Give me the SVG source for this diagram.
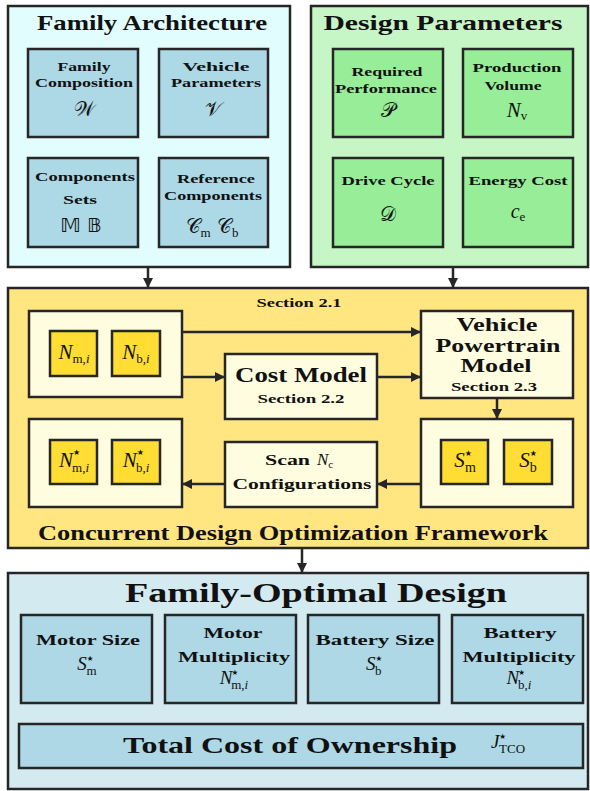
<svg xmlns="http://www.w3.org/2000/svg" width="590" height="791" viewBox="0 0 590 791">
<style>
rect{stroke:#262626;stroke-width:2.5}
.t{font-family:"Liberation Serif",serif;font-weight:bold;fill:#111;text-anchor:middle}
.ts{font-family:"Liberation Serif",serif;font-weight:bold;fill:#111;text-anchor:start}
.m{font-family:"Liberation Serif",serif;font-style:italic;fill:#111;text-anchor:middle}
.ms{font-family:"Liberation Serif",serif;font-style:italic;fill:#111;text-anchor:start}
.r{font-family:"Liberation Serif",serif;font-style:normal;font-weight:normal}
.st{font-family:"DejaVu Sans",sans-serif;font-style:normal;font-weight:normal}
.s{font-family:"DejaVu Sans","Noto Sans",serif;font-style:normal;fill:#111;text-anchor:middle}
.fa{fill:#e2fdfd}.fb{fill:#add8e6}.ga{fill:#c6f5c6}.gb{fill:#98ee98}
.ya{fill:#ffe680}.yb{fill:#fffde0}.yc{fill:#ffdd33}
.ba{fill:#d3eaf1}.bb{fill:#aed8e6}
.c{stroke:#262626;stroke-width:2.5;fill:none}
</style>
<defs>
<marker id="ah" viewBox="0 0 10 10" refX="9" refY="5" markerWidth="4" markerHeight="4" orient="auto" markerUnits="strokeWidth">
<path d="M0,0 L10,5 L0,10 z" fill="#262626"/>
</marker>
</defs>

<g id="family-architecture">
<rect class="fa" x="8" y="6" width="282" height="261"/>
<text class="t" x="152" y="30" font-size="21" textLength="230" lengthAdjust="spacingAndGlyphs">Family Architecture</text>
<g id="family-composition">
<rect class="fb" x="28" y="49" width="110" height="88"/>
<text class="t" x="84" y="71" font-size="13.5" textLength="53" lengthAdjust="spacingAndGlyphs">Family</text>
<text class="t" x="84" y="87" font-size="13.5" textLength="98" lengthAdjust="spacingAndGlyphs">Composition</text>
<text class="s" x="84" y="116" font-size="20">𝒲</text>
</g>
<g id="vehicle-parameters">
<rect class="fb" x="159" y="49" width="109" height="88"/>
<text class="t" x="216" y="71" font-size="13.5" textLength="67" lengthAdjust="spacingAndGlyphs">Vehicle</text>
<text class="t" x="216" y="87" font-size="13.5" textLength="90" lengthAdjust="spacingAndGlyphs">Parameters</text>
<text class="s" x="213" y="116" font-size="20">𝒱</text>
</g>
<g id="components-sets">
<rect class="fb" x="28" y="158" width="110" height="89"/>
<text class="t" x="85" y="181" font-size="13.5" textLength="100" lengthAdjust="spacingAndGlyphs">Components</text>
<text class="t" x="80" y="204" font-size="13.5" textLength="34" lengthAdjust="spacingAndGlyphs">Sets</text>
<text class="s" x="81" y="232" font-size="20">𝕄 𝔹</text>
</g>
<g id="reference-components">
<rect class="fb" x="159" y="158" width="109" height="89"/>
<text class="t" x="216" y="183" font-size="13.5" textLength="78" lengthAdjust="spacingAndGlyphs">Reference</text>
<text class="t" x="213" y="200" font-size="13.5" textLength="98" lengthAdjust="spacingAndGlyphs">Components</text>
<text class="s" x="212" y="233" font-size="20">𝒞<tspan class="r" font-size="13" dy="4">m</tspan><tspan dy="-4"> 𝒞</tspan><tspan class="r" font-size="13" dy="4">b</tspan></text>
</g>
</g>

<g id="design-parameters">
<rect class="ga" x="311" y="6" width="277" height="261"/>
<text class="t" x="443" y="30" font-size="21" textLength="239" lengthAdjust="spacingAndGlyphs">Design Parameters</text>
<g id="required-performance">
<rect class="gb" x="333" y="49" width="110" height="88"/>
<text class="t" x="387" y="76" font-size="13.5" textLength="71" lengthAdjust="spacingAndGlyphs">Required</text>
<text class="t" x="386" y="93" font-size="13.5" textLength="102" lengthAdjust="spacingAndGlyphs">Performance</text>
<text class="s" x="388" y="117" font-size="20">𝒫</text>
</g>
<g id="production-volume">
<rect class="gb" x="463" y="49" width="110" height="88"/>
<text class="t" x="517" y="72" font-size="13.5" textLength="89" lengthAdjust="spacingAndGlyphs">Production</text>
<text class="t" x="513" y="90" font-size="13.5" textLength="57" lengthAdjust="spacingAndGlyphs">Volume</text>
<text class="m" x="517" y="117" font-size="21">N<tspan class="r" font-size="13" dy="3">v</tspan></text>
</g>
<g id="drive-cycle">
<rect class="gb" x="333" y="158" width="110" height="89"/>
<text class="t" x="388" y="185" font-size="13.5" textLength="93" lengthAdjust="spacingAndGlyphs">Drive Cycle</text>
<text class="s" x="388" y="221" font-size="20">𝒟</text>
</g>
<g id="energy-cost">
<rect class="gb" x="463" y="158" width="110" height="89"/>
<text class="t" x="518" y="185" font-size="13.5" textLength="99" lengthAdjust="spacingAndGlyphs">Energy Cost</text>
<text class="m" x="518" y="218" font-size="20">c<tspan class="r" font-size="13" dy="3">e</tspan></text>
</g>
</g>

<g id="framework">
<rect class="ya" x="8" y="288" width="580" height="260"/>
<text class="t" x="299" y="307" font-size="13" textLength="85" lengthAdjust="spacingAndGlyphs">Section 2.1</text>
<text class="t" x="293" y="540" font-size="20" textLength="510" lengthAdjust="spacingAndGlyphs">Concurrent Design Optimization Framework</text>
<g id="counts-box">
<rect class="yb" x="29" y="311" width="153" height="86"/>
<rect class="yc" x="50" y="331" width="47" height="45"/>
<rect class="yc" x="112" y="331" width="48" height="45"/>
<text class="m" x="74" y="359" font-size="21">N<tspan class="r" font-size="13" dy="4">m,</tspan><tspan font-size="13">i</tspan></text>
<text class="m" x="136" y="359" font-size="21">N<tspan class="r" font-size="13" dy="4">b,</tspan><tspan font-size="13">i</tspan></text>
</g>
<g id="optimal-counts-box">
<rect class="yb" x="29" y="419" width="153" height="88"/>
<rect class="yc" x="50" y="440" width="47" height="44"/>
<rect class="yc" x="112" y="440" width="48" height="44"/>
<text class="m" x="74" y="467" font-size="21">N<tspan class="st" font-size="8" dy="-12" dx="0">★</tspan><tspan class="r" font-size="13" dx="-8" dy="17">m,</tspan><tspan font-size="13">i</tspan></text>
<text class="m" x="136" y="467" font-size="21">N<tspan class="st" font-size="8" dy="-12" dx="0">★</tspan><tspan class="r" font-size="13" dx="-8" dy="17">b,</tspan><tspan font-size="13">i</tspan></text>
</g>
<g id="cost-model">
<rect class="yb" x="225" y="354" width="152" height="65"/>
<text class="t" x="301" y="382" font-size="21" textLength="132" lengthAdjust="spacingAndGlyphs">Cost Model</text>
<text class="t" x="301" y="403" font-size="13" textLength="87" lengthAdjust="spacingAndGlyphs">Section 2.2</text>
</g>
<g id="scan-configurations">
<rect class="yb" x="225" y="442" width="152" height="65"/>
<text class="ts" x="265" y="465" font-size="15" textLength="45" lengthAdjust="spacingAndGlyphs">Scan</text>
<text class="ms" x="317" y="465" font-size="17">N<tspan class="r" font-size="11" dy="3">c</tspan></text>
<text class="t" x="302" y="489" font-size="15" textLength="139" lengthAdjust="spacingAndGlyphs">Configurations</text>
</g>
<g id="vehicle-powertrain-model">
<rect class="yb" x="421" y="311" width="152" height="87"/>
<text class="t" x="497" y="331" font-size="19.5" textLength="81" lengthAdjust="spacingAndGlyphs">Vehicle</text>
<text class="t" x="498" y="351.5" font-size="19.5" textLength="125" lengthAdjust="spacingAndGlyphs">Powertrain</text>
<text class="t" x="496" y="372" font-size="19.5" textLength="71" lengthAdjust="spacingAndGlyphs">Model</text>
<text class="t" x="494" y="391" font-size="13" textLength="86" lengthAdjust="spacingAndGlyphs">Section 2.3</text>
</g>
<g id="sizes-box">
<rect class="yb" x="421" y="419" width="152" height="88"/>
<rect class="yc" x="441" y="440" width="47" height="44"/>
<rect class="yc" x="504" y="440" width="48" height="44"/>
<text class="m" x="465" y="467" font-size="21">S<tspan class="st" font-size="8" dy="-11" dx="0">★</tspan><tspan class="r" font-size="14" dx="-7" dy="16">m</tspan></text>
<text class="m" x="528" y="467" font-size="21">S<tspan class="st" font-size="8" dy="-11" dx="0">★</tspan><tspan class="r" font-size="14" dx="-7" dy="16">b</tspan></text>
</g>
</g>

<g id="family-optimal-design">
<rect class="ba" x="8" y="573" width="580" height="216"/>
<text class="t" x="316" y="602" font-size="27" textLength="382" lengthAdjust="spacingAndGlyphs">Family-Optimal Design</text>
<g id="motor-size">
<rect class="bb" x="21" y="615" width="131" height="88"/>
<text class="t" x="88" y="645" font-size="15" textLength="104" lengthAdjust="spacingAndGlyphs">Motor Size</text>
<text class="m" x="87" y="670" font-size="19">S<tspan class="st" font-size="7.5" dy="-9" dx="0">★</tspan><tspan class="r" font-size="13" dx="-7" dy="14">m</tspan></text>
</g>
<g id="motor-multiplicity">
<rect class="bb" x="165" y="615" width="131" height="88"/>
<text class="t" x="233" y="638" font-size="15" textLength="59" lengthAdjust="spacingAndGlyphs">Motor</text>
<text class="t" x="234" y="662" font-size="15" textLength="112" lengthAdjust="spacingAndGlyphs">Multiplicity</text>
<text class="m" x="234" y="684" font-size="19">N<tspan class="st" font-size="7.5" dy="-9" dx="-1">★</tspan><tspan class="r" font-size="13" dx="-7" dy="14">m,</tspan><tspan font-size="13">i</tspan></text>
</g>
<g id="battery-size">
<rect class="bb" x="308" y="615" width="131" height="88"/>
<text class="t" x="375" y="645" font-size="15" textLength="119" lengthAdjust="spacingAndGlyphs">Battery Size</text>
<text class="m" x="374" y="670" font-size="19">S<tspan class="st" font-size="7.5" dy="-9" dx="0">★</tspan><tspan class="r" font-size="13" dx="-7" dy="14">b</tspan></text>
</g>
<g id="battery-multiplicity">
<rect class="bb" x="452" y="615" width="131" height="88"/>
<text class="t" x="520" y="638" font-size="15" textLength="73" lengthAdjust="spacingAndGlyphs">Battery</text>
<text class="t" x="519" y="662" font-size="15" textLength="113" lengthAdjust="spacingAndGlyphs">Multiplicity</text>
<text class="m" x="519" y="684" font-size="19">N<tspan class="st" font-size="7.5" dy="-9" dx="-1">★</tspan><tspan class="r" font-size="13" dx="-7" dy="14">b,</tspan><tspan font-size="13">i</tspan></text>
</g>
<g id="total-cost-of-ownership">
<rect class="bb" x="19" y="724" width="564" height="44"/>
<text class="t" x="290" y="753" font-size="24" textLength="334" lengthAdjust="spacingAndGlyphs">Total Cost of Ownership</text>
<text class="m" x="508" y="748" font-size="19">J<tspan class="st" font-size="7.5" dy="-9" dx="0">★</tspan><tspan class="r" font-size="13" dx="-7" dy="14">TCO</tspan></text>
</g>
</g>

<g id="connectors">
<path class="c" d="M148,267 V287" marker-end="url(#ah)"/>
<path class="c" d="M453,267 V287" marker-end="url(#ah)"/>
<path class="c" d="M182,332 H420" marker-end="url(#ah)"/>
<path class="c" d="M182,377 H224" marker-end="url(#ah)"/>
<path class="c" d="M377,377 H420" marker-end="url(#ah)"/>
<path class="c" d="M497,398 V418" marker-end="url(#ah)"/>
<path class="c" d="M421,484 H378" marker-end="url(#ah)"/>
<path class="c" d="M225,484 H183" marker-end="url(#ah)"/>
<path class="c" d="M302,548 V572" marker-end="url(#ah)"/>
</g>
</svg>
